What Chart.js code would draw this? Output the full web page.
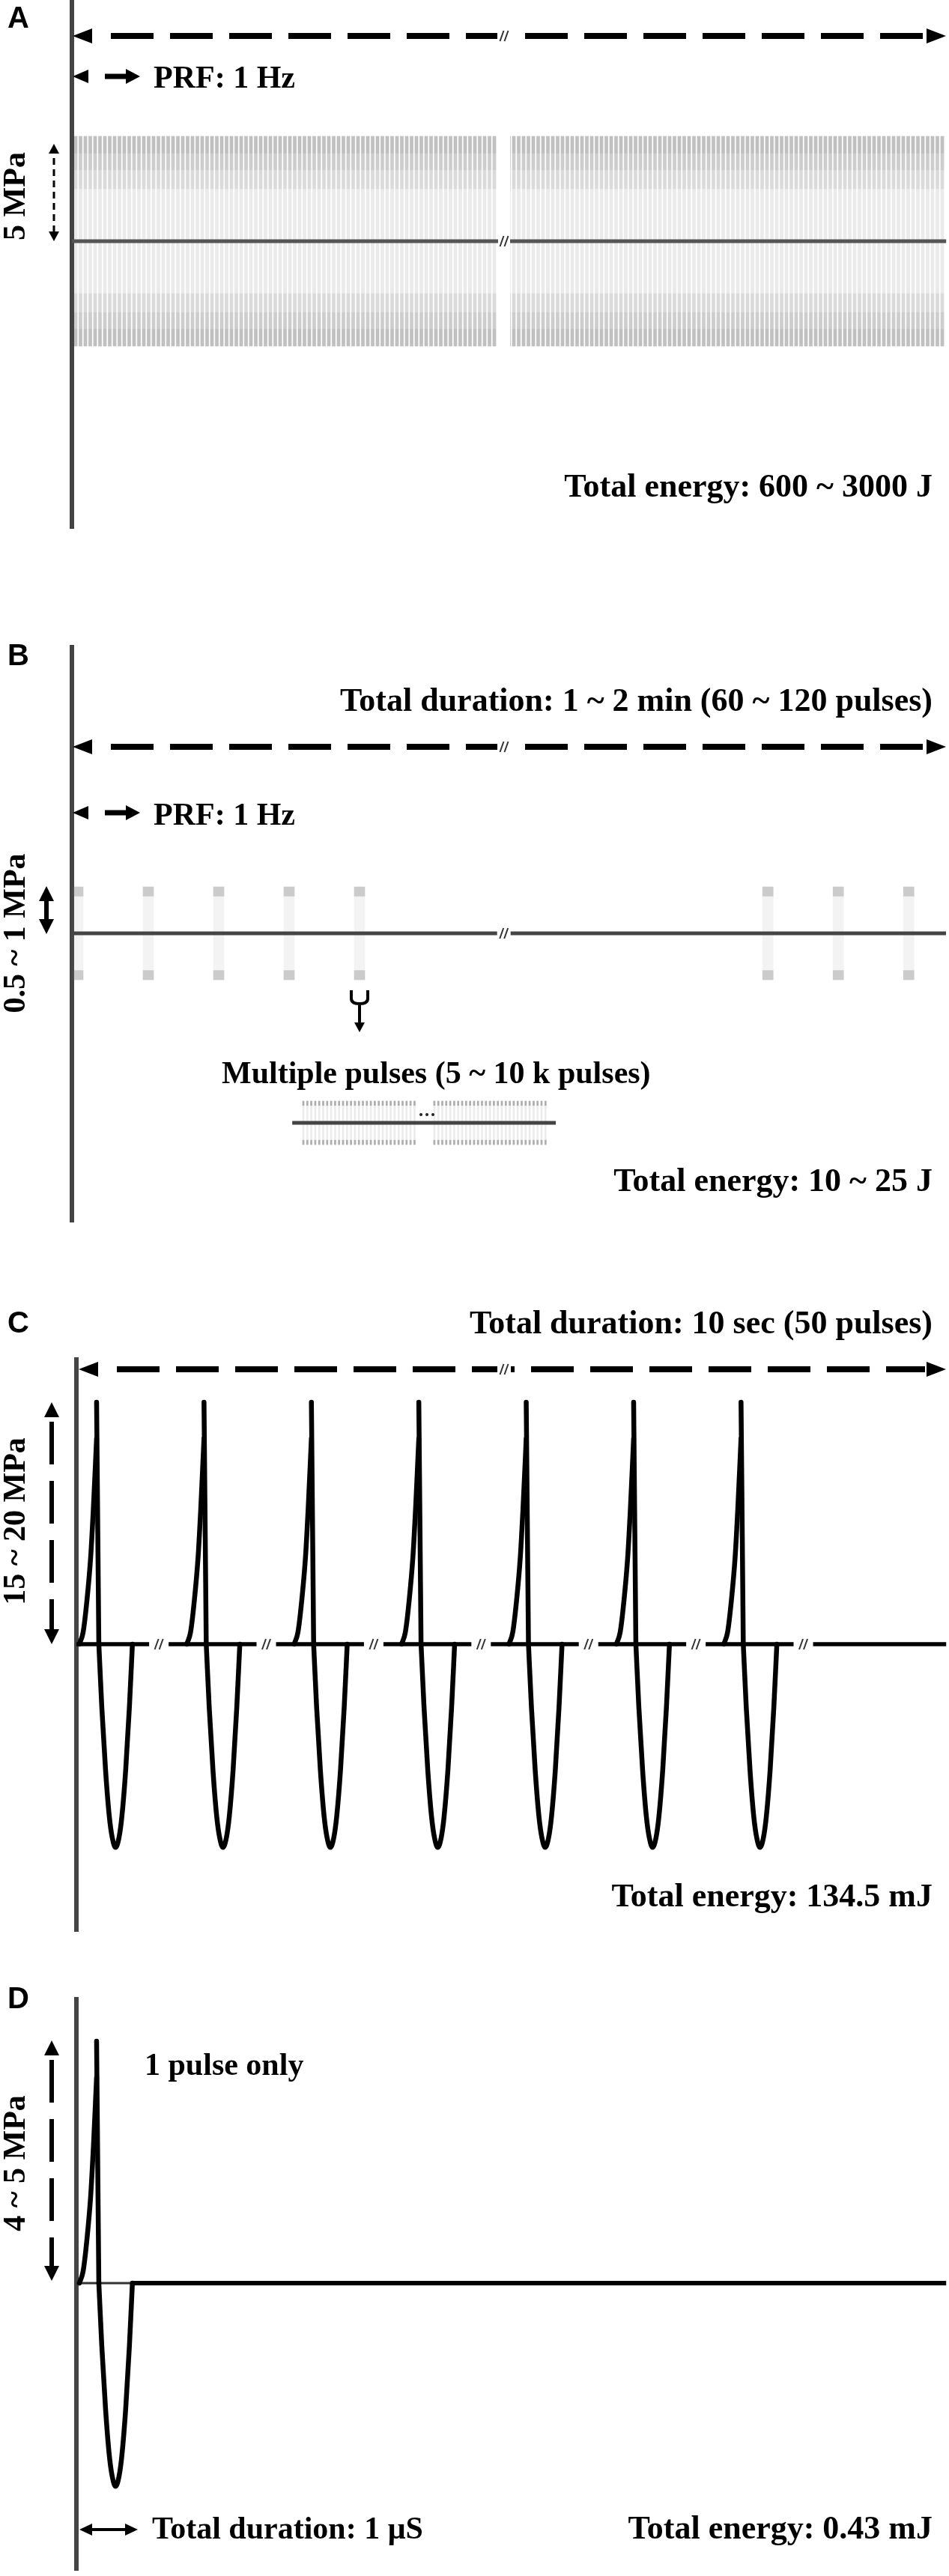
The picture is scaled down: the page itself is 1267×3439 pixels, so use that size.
<!DOCTYPE html>
<html>
<head>
<meta charset="utf-8">
<title>Pulse schemes</title>
<script src="https://cdn.jsdelivr.net/npm/chart.js@4.4.1/dist/chart.umd.min.js"></script>
<style>
  html, body { margin: 0; padding: 0; background: #fff; }
  #page { position: relative; width: 1267px; height: 3439px; background: #fff; overflow: hidden; }
  #page canvas { position: absolute; left: 0; }
</style>
</head>
<body>
<div id="page">
  <canvas id="chartA" width="1267" height="720" style="top:0px"></canvas>
  <canvas id="chartB" width="1267" height="940" style="top:720px"></canvas>
  <canvas id="chartC" width="1267" height="940" style="top:1660px"></canvas>
  <canvas id="chartD" width="1267" height="839" style="top:2600px"></canvas>
</div>
<script>
// ---------- data ----------
// A: continuous train, one pulse per slot (PRF 1 Hz), both sides of the break
const aTrainSegments = [[0, 86], [89, 178]];
const aBreaks = [88];
const aLine = [-0.8, 178.8];
const aPeak = 1;                          // normalized 5 MPa
const aShadeLevels = [0.5, 0.68, 0.84];   // pulse tips get darker above these

// B: one packet per second, each packet a burst of short pulses
const bPacketSlots = [0, 1, 2, 3, 4, 9.8, 10.8, 11.8];
const bBreaks = [6.05];
const bLine = [-0.09, 12.33];
const bInsetSegments = [[0, 28], [33, 61]];
const bInsetLine = [-2.8, 63.6];
const bLevels = [1, 0.8];

// pulse shape (time from spike in pulse widths, pressure normalized to peak)
const riseDt = [-0.32, -0.25, -0.18, -0.11, -0.06, -0.02, 0];
const riseP = [0, 0.05, 0.18, 0.36, 0.56, 0.75, 0.85];
const spikeDt = [0, 0.042];
const spikeP = [1, 0];
const lobeDt = [0.042, 0.097, 0.167, 0.236, 0.292, 0.354, 0.417, 0.472, 0.542, 0.611, 0.667];
const lobeP = [0, -0.26, -0.52, -0.71, -0.8, -0.84, -0.8, -0.71, -0.52, -0.26, 0];

// C: shock pulses, one per period, with breaks between them
const cSpikeTimes = [0.32, 2.32, 4.32, 6.32, 8.32, 10.32, 12.32];
const cBreaks = [1.48, 3.48, 5.48, 7.48, 9.48, 11.48, 13.48];
const cLine = [-0.06, 16.14];

// D: a single pulse (x in microseconds)
const dSpikeTimes = [0.32];
const dLineThin = [-0.06, 0.96];
const dLineThick = [0.96, 16.14];

// ---------- layout ----------
const PAGE_W = 1267;
const RIGHT_TEXT = 1245;
const SERIF = 'bold 42px "Liberation Serif", "Times New Roman", serif';
const SERIF_R = 'bold 44px "Liberation Serif", "Times New Roman", serif';
const SANS = 'bold 40px "Liberation Sans", Arial, sans-serif';

const panels = {
  A: { top: 0, height: 720, axisX: 96, axisTop: 0, axisBottom: 705 },
  B: { top: 720, height: 940, axisX: 96, axisTop: 864, axisBottom: 1631 },
  C: { top: 1660, height: 940, axisX: 102, axisTop: 1815, axisBottom: 2578 },
  D: { top: 2600, height: 839, axisX: 102, axisTop: 2669, axisBottom: 3431 }
};

// value range so that originPx is value 0 and pxPerUnit is the step
function xRange(p, originPx, pxPerUnit) {
  return { min: (p.axisX - originPx) / pxPerUnit, max: (PAGE_W - originPx) / pxPerUnit };
}
function yRange(p, baselinePx, pxPerUnit) {
  return { min: -(p.axisBottom - baselinePx) / pxPerUnit, max: (baselinePx - p.axisTop) / pxPerUnit };
}

function slotsOf(segments) {
  const out = [];
  segments.forEach(([a, b]) => { for (let s = a; s <= b; s++) out.push(s); });
  return out;
}

function bars(xs, lo, hi, color, width, xAxisID = 'x', yAxisID = 'y') {
  return {
    type: 'bar', xAxisID, yAxisID,
    data: xs.map(x => ({ x, y: [lo, hi] })),
    backgroundColor: color, borderWidth: 0,
    barThickness: width, grouped: false, order: 5
  };
}

function flatLine(range, color, width, xAxisID = 'x', yAxisID = 'y') {
  return {
    type: 'line', xAxisID, yAxisID,
    data: range.map(x => ({ x, y: 0 })),
    borderColor: color, borderWidth: width, pointRadius: 0, fill: false, order: 2
  };
}

function curve(data, smooth) {
  return {
    type: 'line', data, borderColor: '#000', borderWidth: 6.5, pointRadius: 0, fill: false,
    cubicInterpolationMode: smooth ? 'monotone' : 'default', tension: 0,
    borderCapStyle: 'round', borderJoinStyle: 'round', order: 1
  };
}

function pulseSets(spikes) {
  const sets = [];
  spikes.forEach(s => {
    sets.push(curve(riseDt.map((d, i) => ({ x: s + d, y: riseP[i] })), true));
    sets.push(curve(spikeDt.map((d, i) => ({ x: s + d, y: spikeP[i] })), false));
    sets.push(curve(lobeDt.map((d, i) => ({ x: s + d, y: lobeP[i] })), true));
  });
  return sets;
}

// ---------- drawing helpers (page coordinates) ----------
function tri(ctx, x, y, dir, len, half) {
  ctx.beginPath();
  ctx.moveTo(x, y);
  if (dir === 'l') { ctx.lineTo(x + len, y - half); ctx.lineTo(x + len, y + half); }
  if (dir === 'r') { ctx.lineTo(x - len, y - half); ctx.lineTo(x - len, y + half); }
  if (dir === 'u') { ctx.lineTo(x - half, y + len); ctx.lineTo(x + half, y + len); }
  if (dir === 'd') { ctx.lineTo(x - half, y - len); ctx.lineTo(x + half, y - len); }
  ctx.closePath();
  ctx.fill();
}

function hDashedArrow(ctx, x1, x2, y) {
  ctx.fillStyle = '#000';
  tri(ctx, x1, y, 'l', 26, 10);
  tri(ctx, x2, y, 'r', 26, 10);
  ctx.save();
  ctx.strokeStyle = '#000';
  ctx.lineWidth = 8;
  ctx.setLineDash([57, 22]);
  ctx.beginPath();
  ctx.moveTo(x1 + 51, y);
  ctx.lineTo(x2 - 28, y);
  ctx.stroke();
  ctx.restore();
}

function vArrow(ctx, x, y1, y2, o) {
  ctx.fillStyle = '#000';
  tri(ctx, x, y1, 'u', o.len, o.half);
  tri(ctx, x, y2, 'd', o.len, o.half);
  ctx.save();
  ctx.strokeStyle = '#000';
  ctx.lineWidth = o.lw;
  ctx.setLineDash(o.dash || []);
  ctx.beginPath();
  ctx.moveTo(x, y1 + o.len + (o.dash ? 6 : 0));
  ctx.lineTo(x, y2 - o.len);
  ctx.stroke();
  ctx.restore();
}

function prfArrow(ctx, x0, y) {
  ctx.fillStyle = '#000';
  tri(ctx, x0, y, 'l', 21, 9);
  ctx.fillRect(140, y - 3.5, 32, 7);
  tri(ctx, 187, y, 'r', 19, 10);
}

function slashes(ctx, x, y) {
  ctx.save();
  ctx.strokeStyle = '#333';
  ctx.lineWidth = 2;
  [-3, 3].forEach(dx => {
    ctx.beginPath();
    ctx.moveTo(x + dx - 2.5, y + 7);
    ctx.lineTo(x + dx + 2.5, y - 7);
    ctx.stroke();
  });
  ctx.restore();
}

function breakMark(ctx, x, y, halfW, h) {
  ctx.fillStyle = '#fff';
  ctx.fillRect(x - halfW, y - h / 2, halfW * 2, h);
  slashes(ctx, x, y);
}

function text(ctx, str, x, y, align = 'left', font = SERIF) {
  ctx.font = font;
  ctx.fillStyle = '#000';
  ctx.textAlign = align;
  ctx.textBaseline = 'alphabetic';
  ctx.fillText(str, x, y);
}

function vLabel(ctx, str, x, y) {
  ctx.save();
  ctx.translate(x, y);
  ctx.rotate(-Math.PI / 2);
  ctx.font = SERIF;
  ctx.fillStyle = '#000';
  ctx.textAlign = 'center';
  ctx.textBaseline = 'middle';
  ctx.fillText(str, 0, 0);
  ctx.restore();
}

// ---------- chart factory ----------
function makeChart(id, p, type, datasets, xr, yr, extraScales, draw) {
  const annotate = {
    id: 'annotate' + id,
    afterDraw(chart) {
      const ctx = chart.ctx;
      ctx.save();
      ctx.translate(0, -p.top);
      draw(ctx, chart);
      ctx.restore();
    }
  };
  return new Chart(document.getElementById(id), {
    type,
    data: { datasets },
    plugins: [annotate],
    options: {
      responsive: false,
      animation: false,
      devicePixelRatio: 1,
      events: [],
      layout: { padding: { left: p.axisX, right: 0, top: p.axisTop - p.top, bottom: p.top + p.height - p.axisBottom } },
      plugins: { legend: { display: false }, tooltip: { enabled: false } },
      scales: Object.assign({
        x: { type: 'linear', display: false, offset: false, min: xr.min, max: xr.max },
        y: {
          type: 'linear', display: true, min: yr.min, max: yr.max,
          grid: { display: false, drawTicks: false }, ticks: { display: false },
          border: { display: true, color: '#444', width: 6 }
        }
      }, extraScales)
    }
  });
}

// ---------- Panel A ----------
const pA = panels.A;
const aSlots = slotsOf(aTrainSegments);
const aSets = [
  flatLine(aLine, '#555', 5),
  bars(aSlots, -aPeak, aPeak, 'rgba(90,90,90,0.13)', 4)
];
aShadeLevels.forEach(lv => {
  aSets.push(bars(aSlots, lv, aPeak, 'rgba(80,80,80,0.10)', 4));
  aSets.push(bars(aSlots, -aPeak, -lv, 'rgba(80,80,80,0.10)', 4));
});
makeChart('chartA', pA, 'bar', aSets, xRange(pA, 101, 6.5), yRange(pA, 322, 140), {}, (ctx, chart) => {
  text(ctx, 'A', 10, 37, 'left', SANS);
  hDashedArrow(ctx, 97, 1263, 48);
  breakMark(ctx, 673, 48, 9, 14);
  prfArrow(ctx, 97, 102);
  text(ctx, 'PRF: 1 Hz', 205, 117);
  vArrow(ctx, 72, 192, 322, { lw: 3, dash: [9, 6], len: 13, half: 7 });
  vLabel(ctx, '5 MPa', 22, 262);
  const yTop = chart.scales.y.getPixelForValue(aPeak) + pA.top;
  const yBot = chart.scales.y.getPixelForValue(-aPeak) + pA.top;
  aBreaks.forEach(b => {
    const xb = chart.scales.x.getPixelForValue(b);
    ctx.fillStyle = '#fff';
    ctx.fillRect(xb - 8, yTop - 4, 16, yBot - yTop + 8);
    slashes(ctx, xb, chart.scales.y.getPixelForValue(0) + pA.top);
  });
  text(ctx, 'Total energy: 600 ~ 3000 J', RIGHT_TEXT, 663, 'right', SERIF_R);
});

// ---------- Panel B ----------
const pB = panels.B;
const bInsetSlots = slotsOf(bInsetSegments);
const [bPeak, bTip] = bLevels;
const bInsetX = xRange(pB, 405, 5.3);
const bInsetY = yRange(pB, 1499, 29);
makeChart('chartB', pB, 'bar', [
  flatLine(bLine, '#444', 5),
  flatLine(bInsetLine, '#444', 5, 'xi', 'yi'),
  bars(bPacketSlots, -bPeak, bPeak, 'rgba(120,120,120,0.09)', 14),
  bars(bPacketSlots, bTip, bPeak, 'rgba(90,90,90,0.26)', 14),
  bars(bPacketSlots, -bPeak, -bTip, 'rgba(90,90,90,0.26)', 14),
  bars(bInsetSlots, -bPeak, bPeak, 'rgba(120,120,120,0.14)', 2, 'xi', 'yi'),
  bars(bInsetSlots, bTip, bPeak, 'rgba(80,80,80,0.42)', 2, 'xi', 'yi'),
  bars(bInsetSlots, -bPeak, -bTip, 'rgba(80,80,80,0.42)', 2, 'xi', 'yi')
], xRange(pB, 104, 94), yRange(pB, 1246, 62), {
  xi: { type: 'linear', axis: 'x', display: false, offset: false, min: bInsetX.min, max: bInsetX.max },
  yi: { type: 'linear', axis: 'y', display: false, min: bInsetY.min, max: bInsetY.max }
}, (ctx, chart) => {
  text(ctx, 'B', 10, 888, 'left', SANS);
  text(ctx, 'Total duration: 1 ~ 2 min (60 ~ 120 pulses)', RIGHT_TEXT, 949, 'right', SERIF_R);
  hDashedArrow(ctx, 97, 1263, 997);
  breakMark(ctx, 673, 997, 9, 14);
  prfArrow(ctx, 97, 1085);
  text(ctx, 'PRF: 1 Hz', 205, 1101);
  vArrow(ctx, 62, 1183, 1247, { lw: 6, len: 20, half: 10 });
  vLabel(ctx, '0.5 ~ 1 MPa', 22, 1246);
  const y0 = chart.scales.y.getPixelForValue(0) + pB.top;
  bBreaks.forEach(b => breakMark(ctx, chart.scales.x.getPixelForValue(b), y0, 9, 12));
  // zoom bracket under the fifth packet
  const xz = chart.scales.x.getPixelForValue(bPacketSlots[4]);
  ctx.save();
  ctx.strokeStyle = '#000';
  ctx.lineWidth = 4;
  ctx.beginPath();
  ctx.moveTo(xz - 11, 1322);
  ctx.lineTo(xz - 11, 1333);
  ctx.quadraticCurveTo(xz - 11, 1340, xz, 1340);
  ctx.quadraticCurveTo(xz + 11, 1340, xz + 11, 1333);
  ctx.lineTo(xz + 11, 1322);
  ctx.moveTo(xz, 1340);
  ctx.lineTo(xz, 1366);
  ctx.stroke();
  ctx.restore();
  ctx.fillStyle = '#000';
  tri(ctx, xz, 1378, 'd', 13, 7);
  text(ctx, 'Multiple pulses (5 ~ 10 k pulses)', 296, 1446);
  ctx.fillStyle = '#222';
  [562, 570, 578].forEach(x => { ctx.beginPath(); ctx.arc(x, 1488, 2, 0, Math.PI * 2); ctx.fill(); });
  text(ctx, 'Total energy: 10 ~ 25 J', RIGHT_TEXT, 1590, 'right', SERIF_R);
});

// ---------- Panel C ----------
const pC = panels.C;
makeChart('chartC', pC, 'line', [
  flatLine(cLine, '#000', 5.5),
  ...pulseSets(cSpikeTimes)
], xRange(pC, 106, 71.7), yRange(pC, 2195, 323), {}, (ctx, chart) => {
  text(ctx, 'C', 10, 1779, 'left', SANS);
  text(ctx, 'Total duration: 10 sec (50 pulses)', RIGHT_TEXT, 1780, 'right', SERIF_R);
  hDashedArrow(ctx, 105, 1263, 1828);
  breakMark(ctx, 673, 1828, 9, 14);
  vArrow(ctx, 69, 1872, 2195, { lw: 6, dash: [57, 22], len: 20, half: 10 });
  vLabel(ctx, '15 ~ 20 MPa', 22, 2031);
  const y0 = chart.scales.y.getPixelForValue(0) + pC.top;
  cBreaks.forEach(b => breakMark(ctx, chart.scales.x.getPixelForValue(b), y0, 13, 12));
  text(ctx, 'Total energy: 134.5 mJ', RIGHT_TEXT, 2545, 'right', SERIF_R);
});

// ---------- Panel D ----------
const pD = panels.D;
makeChart('chartD', pD, 'line', [
  flatLine(dLineThin, '#333', 3),
  flatLine(dLineThick, '#000', 6),
  ...pulseSets(dSpikeTimes)
], xRange(pD, 106, 71.7), yRange(pD, 3048, 323), {}, (ctx) => {
  text(ctx, 'D', 10, 2681, 'left', SANS);
  text(ctx, '1 pulse only', 193, 2770);
  vArrow(ctx, 69, 2724, 3045, { lw: 6, dash: [57, 22], len: 20, half: 10 });
  vLabel(ctx, '4 ~ 5 MPa', 22, 2888);
  ctx.fillStyle = '#000';
  tri(ctx, 106, 3377, 'l', 17, 8);
  tri(ctx, 184, 3377, 'r', 17, 8);
  ctx.fillRect(120, 3375, 50, 4);
  text(ctx, 'Total duration: 1 \u03BCS', 203, 3389);
  text(ctx, 'Total energy: 0.43 mJ', RIGHT_TEXT, 3389, 'right', SERIF_R);
});
</script>
</body>
</html>
